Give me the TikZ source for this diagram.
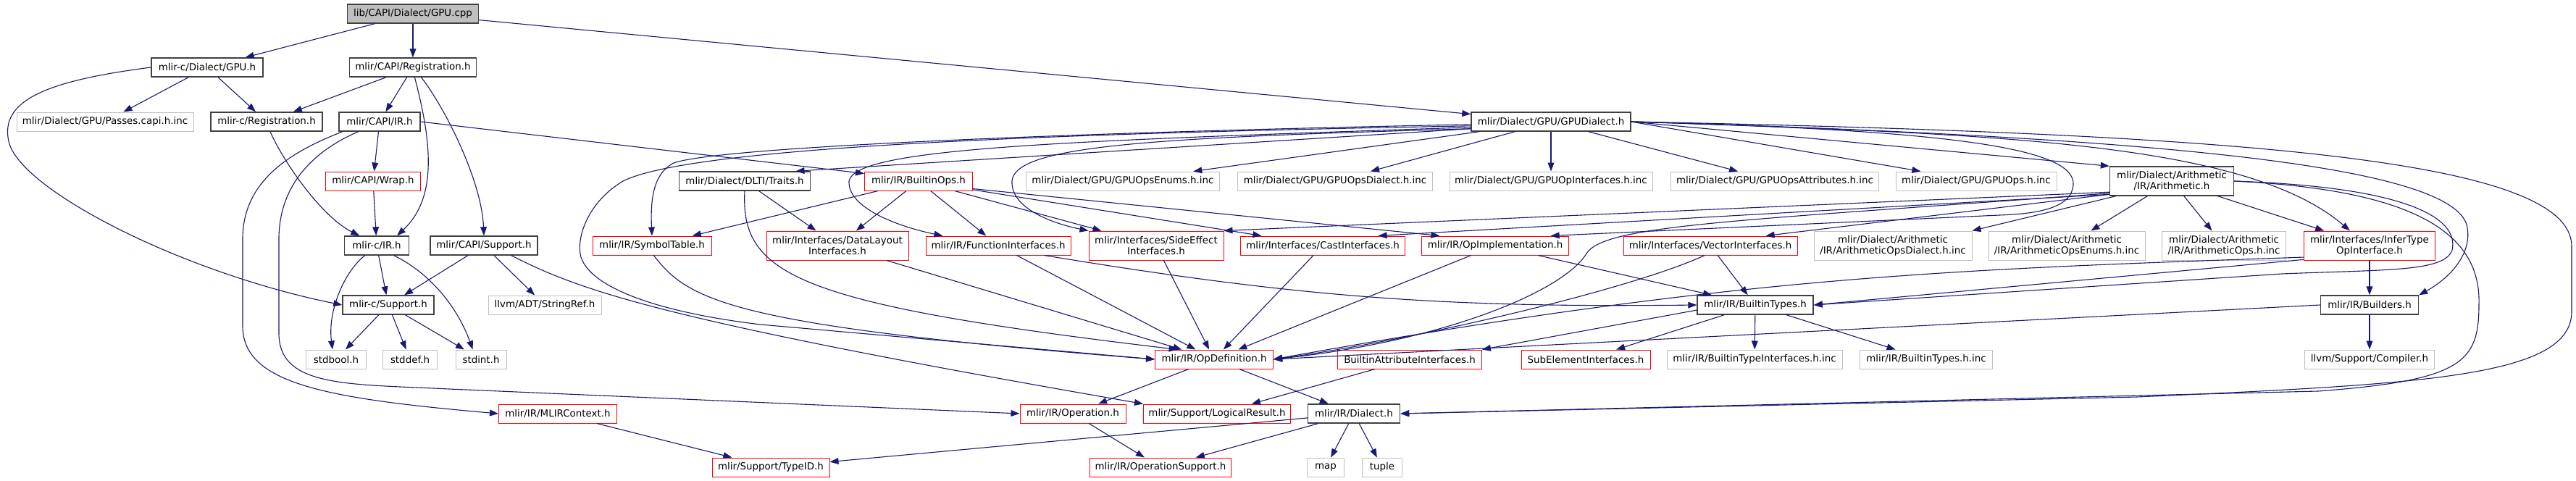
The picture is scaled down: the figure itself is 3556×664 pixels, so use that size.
\documentclass[tikz,border=0pt]{standalone}
\usepackage{fontspec}
\setmainfont{DejaVu Sans}
\usetikzlibrary{arrows.meta}
\definecolor{edgeblue}{HTML}{191970}
\definecolor{boxgrey}{HTML}{BFBFBF}
\definecolor{boxdark}{HTML}{404040}

\begin{document}
\begin{tikzpicture}[
    x=0.5pt, y=0.5pt,
    % Style definitions
    incbox/.style={rectangle, draw, fill=white, line width=0.5pt, inner xsep=1pt, inner ysep=0pt, minimum height=13pt, align=center, font=\fontsize{6.7}{7.5}\selectfont},
    srcfile/.style={incbox, draw=boxdark, fill=boxgrey, line width=0.7pt},
    docfile/.style={incbox, draw=boxdark, line width=0.7pt},
    trunc/.style={incbox, draw=red},
    extfile/.style={incbox, draw=boxgrey},
    bw/.style={minimum width=#1*0.5pt},
    twoline/.style={minimum height=20pt},
    arrow/.style={-{Triangle[length=6pt,width=4.4pt]}, draw=edgeblue, line width=0.55pt}
]
\useasboundingbox (0,0) rectangle (3556,-664);

% Row 1: source file
\node[srcfile, bw=181] (root) at (570,-19) {lib/CAPI/Dialect/GPU.cpp};

% Row 2
\node[docfile, bw=154] (gpuh) at (286,-93) {mlir-c/Dialect/GPU.h};
\node[docfile, bw=175] (capireg) at (570,-93) {mlir/CAPI/Registration.h};

% Row 3
\node[extfile, bw=244] (passes) at (145,-168) {mlir/Dialect/GPU/Passes.capi.h.inc};
\node[docfile, bw=154] (creg) at (368,-168) {mlir-c/Registration.h};
\node[docfile, bw=112] (capiir) at (524,-168) {mlir/CAPI/IR.h};
\node[docfile, bw=220] (gpudialect) at (2141,-168) {mlir/Dialect/GPU/GPUDialect.h};

% Row 4
\node[trunc, bw=131] (wrap) at (515,-250) {mlir/CAPI/Wrap.h};
\node[docfile, bw=181] (traits) at (1028,-250) {mlir/Dialect/DLTI/Traits.h};
\node[trunc, bw=149] (builtinops) at (1268,-250) {mlir/IR/BuiltinOps.h};
\node[extfile, bw=267] (opsenums) at (1550,-250) {mlir/Dialect/GPU/GPUOpsEnums.h.inc};
\node[extfile, bw=269] (opsdialect) at (1843,-250) {mlir/Dialect/GPU/GPUOpsDialect.h.inc};
\node[extfile, bw=280] (opifaces) at (2141,-250) {mlir/Dialect/GPU/GPUOpInterfaces.h.inc};
\node[extfile, bw=287] (opsattr) at (2450,-250) {mlir/Dialect/GPU/GPUOpsAttributes.h.inc};
\node[extfile, bw=222] (gpuops) at (2728,-250) {mlir/Dialect/GPU/GPUOps.h.inc};
\node[docfile, bw=171, twoline] (arith) at (2998,-250) {mlir/Dialect/Arithmetic\\/IR/Arithmetic.h};

% Row 5
\node[docfile, bw=89] (cir) at (520,-339) {mlir-c/IR.h};
\node[docfile, bw=148] (capisupport) at (668,-339) {mlir/CAPI/Support.h};
\node[trunc, bw=164] (symtab) at (900,-339) {mlir/IR/SymbolTable.h};
\node[trunc, bw=196, twoline] (datalayout) at (1156,-339) {mlir/Interfaces/DataLayout\\Interfaces.h};
\node[trunc, bw=200] (funcif) at (1378,-339) {mlir/IR/FunctionInterfaces.h};
\node[trunc, bw=186, twoline] (sideeffect) at (1596,-339) {mlir/Interfaces/SideEffect\\Interfaces.h};
\node[trunc, bw=227] (castif) at (1826,-339) {mlir/Interfaces/CastInterfaces.h};
\node[trunc, bw=203] (opimpl) at (2064,-339) {mlir/IR/OpImplementation.h};
\node[trunc, bw=240] (vectorif) at (2361,-339) {mlir/Interfaces/VectorInterfaces.h};
\node[extfile, bw=218, twoline] (arithdialect) at (2613,-339) {mlir/Dialect/Arithmetic\\/IR/ArithmeticOpsDialect.h.inc};
\node[extfile, bw=216, twoline] (arithenums) at (2853,-339) {mlir/Dialect/Arithmetic\\/IR/ArithmeticOpsEnums.h.inc};
\node[extfile, bw=171, twoline] (arithops) at (3070,-339) {mlir/Dialect/Arithmetic\\/IR/ArithmeticOps.h.inc};
\node[trunc, bw=181, twoline] (infertype) at (3271,-339) {mlir/Interfaces/InferType\\OpInterface.h};

% Row 6
\node[docfile, bw=126] (csupport) at (536,-421) {mlir-c/Support.h};
\node[extfile, bw=156] (stringref) at (752,-421) {llvm/ADT/StringRef.h};
\node[docfile, bw=160] (btypes) at (2423,-421) {mlir/IR/BuiltinTypes.h};
\node[docfile, bw=135] (builders) at (3271,-421) {mlir/IR/Builders.h};

% Row 7
\node[extfile, bw=83] (stdbool) at (464,-496) {stdbool.h};
\node[extfile, bw=75] (stddef) at (566,-496) {stddef.h};
\node[extfile, bw=70] (stdint) at (664,-496) {stdint.h};
\node[trunc, bw=163] (opdef) at (1676,-496) {mlir/IR/OpDefinition.h};
\node[trunc, bw=199] (battrif) at (1946,-496) {BuiltinAttributeInterfaces.h};
\node[trunc, bw=178] (subelem) at (2189,-496) {SubElementInterfaces.h};
\node[extfile, bw=242] (btypeifinc) at (2422,-496) {mlir/IR/BuiltinTypeInterfaces.h.inc};
\node[extfile, bw=183] (btypesinc) at (2659,-496) {mlir/IR/BuiltinTypes.h.inc};
\node[extfile, bw=179] (compiler) at (3271,-496) {llvm/Support/Compiler.h};

% Row 8
\node[trunc, bw=163] (mlirctx) at (770,-571) {mlir/IR/MLIRContext.h};
\node[trunc, bw=146] (operation) at (1481,-571) {mlir/IR/Operation.h};
\node[trunc, bw=203] (logical) at (1680,-571) {mlir/Support/LogicalResult.h};
\node[docfile, bw=127] (dialect) at (1869,-571) {mlir/IR/Dialect.h};

% Row 9
\node[trunc, bw=162] (typeid) at (1064,-645) {mlir/Support/TypeID.h};
\node[trunc, bw=195] (opsupport) at (1602,-645) {mlir/IR/OperationSupport.h};
\node[extfile, bw=51] (map) at (1830,-645) {map};
\node[extfile, bw=55] (tuple) at (1908,-645) {tuple};

% C API side
\draw[arrow] (root) -- (gpuh);
\draw[arrow] (root) -- (capireg);
\draw[arrow] (root) -- (gpudialect);

\draw[arrow] (gpuh) -- (passes);
\draw[arrow] (gpuh) -- (creg);
\draw[arrow] (gpuh.west) .. controls (60,-112) and (0,-140) .. (12,-195) .. controls (26,-261) and (250,-376) .. (csupport.west);

\draw[arrow] (capireg) -- (creg);
\draw[arrow] (capireg) -- (capiir);
\draw[arrow] (capireg.-80) .. controls (597,-200) and (603,-274) .. (cir.26);
\draw[arrow] (capireg.-50) .. controls (615,-150) and (665,-250) .. (capisupport.north);

\draw[arrow] (creg.-70) .. controls (392,-225) and (445,-300) .. (cir.150);

\draw[arrow] (capiir) -- (wrap);
\draw[arrow] (capiir.east) -- (builtinops.172);
\draw[arrow] (capiir.-165) .. controls (400,-210) and (335,-250) .. (335,-330) -- (335,-450) .. controls (335,-530) and (450,-550) .. (mlirctx.west);
\draw[arrow] (capiir.-155) .. controls (440,-205) and (385,-250) .. (385,-330) -- (385,-460) .. controls (385,-535) and (480,-530) .. (620,-537) -- (operation.west);

\draw[arrow] (wrap) -- (cir);
\draw[arrow] (cir.-140) .. controls (475,-375) and (452,-430) .. (stdbool.110);
\draw[arrow] (cir) -- (csupport);
\draw[arrow] (cir.-30) .. controls (590,-375) and (630,-420) .. (stdint.130);

\draw[arrow] (csupport) -- (stdbool);
\draw[arrow] (csupport) -- (stddef);
\draw[arrow] (csupport) -- (stdint);

\draw[arrow] (capisupport) -- (csupport);
\draw[arrow] (capisupport) -- (stringref);
\draw[arrow] (capisupport.-20) .. controls (800,-400) and (900,-440) .. (logical.north west);

\draw[arrow] (mlirctx) -- (typeid);

% IR core
\draw[arrow] (symtab.-80) .. controls (950,-415) and (1010,-450) .. (opdef.west);
\draw[arrow] (datalayout) -- (opdef);
\draw[arrow] (traits) -- (datalayout);
\draw[arrow] (traits.-90) .. controls (1022,-380) and (1100,-420) .. (opdef.165);

\draw[arrow] (builtinops) -- (symtab);
\draw[arrow] (builtinops) -- (datalayout);
\draw[arrow] (builtinops) -- (funcif);
\draw[arrow] (builtinops) -- (sideeffect);
\draw[arrow] (builtinops) -- (castif);
\draw[arrow] (builtinops.-8) -- (opimpl.170);

\draw[arrow] (funcif) -- (opdef);
\draw[arrow] (funcif.-12) to[bend right=5] (btypes.west);
\draw[arrow] (sideeffect) -- (opdef);
\draw[arrow] (castif) -- (opdef);
\draw[arrow] (opimpl) -- (opdef);
\draw[arrow] (opimpl) -- (btypes);

\draw[arrow] (opdef) -- (operation);
\draw[arrow] (opdef) -- (dialect);
\draw[arrow] (operation) -- (opsupport);
\draw[arrow] (dialect) -- (typeid);
\draw[arrow] (dialect) -- (opsupport);
\draw[arrow] (dialect) -- (map);
\draw[arrow] (dialect) -- (tuple);
\draw[arrow] (battrif) -- (logical);

% GPU dialect
\draw[arrow] (gpudialect) -- (opsenums);
\draw[arrow] (gpudialect) -- (opsdialect);
\draw[arrow] (gpudialect) -- (opifaces);
\draw[arrow] (gpudialect) -- (opsattr);
\draw[arrow] (gpudialect.east) -- (gpuops.170);
\draw[arrow] (gpudialect.east) -- (arith.north west);
\draw[arrow] (gpudialect.-175) -- (traits.11);
\draw[arrow] (gpudialect.-178) .. controls (1600,-180) and (1000,-200) .. (930,-225) .. controls (900,-240) and (898,-280) .. (symtab.north);
\draw[arrow] (gpudialect.-177) .. controls (1400,-185) and (950,-205) .. (860,-250) .. controls (810,-280) and (795,-330) .. (802,-355) .. controls (815,-395) and (900,-430) .. (1050,-448) -- (opdef.west);
\draw[arrow] (gpudialect.-176) .. controls (1450,-195) and (1180,-205) .. (1172,-250) .. controls (1170,-290) and (1250,-315) .. (funcif.170);
\draw[arrow] (gpudialect.-175) .. controls (1600,-190) and (1400,-200) .. (1397,-250) .. controls (1395,-290) and (1460,-310) .. (sideeffect.north west);
\draw[arrow] (gpudialect.east) .. controls (2700,-180) and (2865,-205) .. (2862,-255) .. controls (2860,-285) and (2820,-295) .. (2760,-297) -- (opimpl.10);
\draw[arrow] (gpudialect.east) .. controls (2750,-185) and (3100,-195) .. (infertype.143);
\draw[arrow] (gpudialect.east) .. controls (3000,-190) and (3380,-230) .. (3405,-310) .. controls (3415,-350) and (3380,-385) .. (builders.north east);
\draw[arrow] (gpudialect.east) .. controls (3100,-185) and (3550,-220) .. (3550,-340) -- (3550,-430) .. controls (3550,-520) and (3350,-530) .. (2950,-548) -- (dialect.east);

% Arithmetic dialect
\draw[arrow] (arith.-168) -- (vectorif.10);
\draw[arrow] (arith.-165) -- (arithdialect.north east);
\draw[arrow] (arith) -- (arithenums);
\draw[arrow] (arith) -- (arithops);
\draw[arrow] (arith) -- (infertype);
\draw[arrow] (arith.-168) -- (castif.10);
\draw[arrow] (arith.-170) -- (sideeffect.north east);
\draw[arrow] (arith.-169) .. controls (2400,-305) and (2215,-310) .. (2190,-350) .. controls (2160,-400) and (2000,-470) .. (opdef.east);
\draw[arrow] (arith.east) .. controls (3320,-258) and (3395,-300) .. (3385,-345) .. controls (3375,-375) and (3300,-372) .. (3150,-378) -- (btypes.east);
\draw[arrow] (arith.east) .. controls (3330,-262) and (3425,-320) .. (3422,-420) .. controls (3422,-500) and (3400,-525) .. (3200,-540) -- (dialect.east);

% Interfaces and builtin types
\draw[arrow] (infertype) -- (builders);
\draw[arrow] (infertype.-168) -- (btypes.east);
\draw[arrow] (infertype.-170) .. controls (2700,-372) and (2400,-380) .. (opdef.east);
\draw[arrow] (builders.west) -- (opdef.east);
\draw[arrow] (builders) -- (compiler);

\draw[arrow] (vectorif) -- (btypes);
\draw[arrow] (vectorif.-120) .. controls (2250,-400) and (1950,-470) .. (opdef.east);
\draw[arrow] (btypes.-175) -- (battrif.north east);
\draw[arrow] (btypes) -- (subelem);
\draw[arrow] (btypes) -- (btypeifinc);
\draw[arrow] (btypes) -- (btypesinc);

\end{tikzpicture}
\end{document}
